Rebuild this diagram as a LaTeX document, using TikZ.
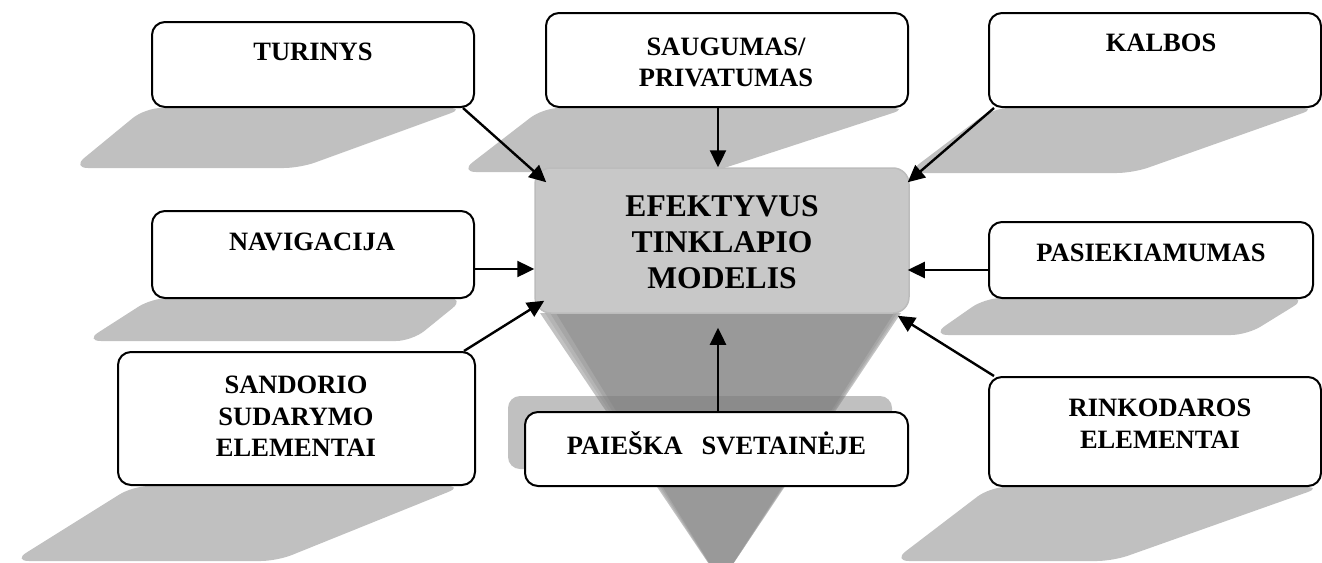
\documentclass[tikz,border=0pt]{standalone}
\usepackage{fontspec}
\setmainfont{Liberation Serif}
\usetikzlibrary{arrows.meta}
\definecolor{shadowgray}{HTML}{C0C0C0}
\definecolor{coregray}{HTML}{C8C8C8}
\definecolor{coreedge}{HTML}{BCBCBC}
\definecolor{funnelA}{HTML}{C2C2C2}
\definecolor{funnelB}{HTML}{B4B4B4}
\definecolor{funnelC}{HTML}{A6A6A6}
\definecolor{funnelD}{HTML}{999999}
\definecolor{backrect}{HTML}{7E7E7E}
\begin{document}
\begin{tikzpicture}[x=1pt,y=-1pt,
  box/.style={draw=black, line width=2pt, rounded corners=13pt, fill=white, inner sep=0pt},
  lbl/.style={font=\fontsize{26.5}{31.5}\selectfont\bfseries, align=center, inner sep=0pt},
  big/.style={font=\fontsize{31.6}{36}\selectfont\bfseries, align=center, inner sep=0pt},
  flat/.style={fill=shadowgray, rounded corners=16pt},
  arr/.style={-{Triangle[length=17pt,width=16pt]}, line width=2.4pt}]
\useasboundingbox (0,0) rectangle (1322,562);
\clip (0,0) rectangle (1322,562);

% slanted shadows under the boxes
\fill[flat] (145,108) -- (465,108) -- (300,168) -- (72,168) -- cycle;
\fill[flat] (543,108) -- (908,108) -- (712,172) -- (460,172) -- cycle;
\fill[flat] (993,108) -- (1317,108) -- (1133,173) -- (907,173) -- cycle;
\fill[flat] (152,298) -- (465,298) -- (412,341) -- (85,341) -- cycle;
\fill[flat] (985,298) -- (1307,298) -- (1247,335) -- (932,335) -- cycle;
\fill[flat] (133,486) -- (463,486) -- (277,561) -- (13,561) -- cycle;
\fill[flat] (990,487) -- (1322,487) -- (1113,561) -- (893,561) -- cycle;

% funnel under the central box, lighter towards its rims
\fill[funnelA] (540,313) -- (901,313) -- (721,582) -- cycle;
\fill[funnelB] (545,313) -- (899,313) -- (721,582) -- cycle;
\fill[funnelC] (550,313) -- (897,313) -- (721,582) -- cycle;
\fill[funnelD] (556,313) -- (894,313) -- (721,582) -- cycle;

% central box
\node[fill=coregray, draw=coreedge, line width=1.5pt, rounded corners=16pt,
      minimum width=374pt, minimum height=145pt, inner sep=0pt] (core) at (722,240.5) {};
\node[big] (core-t) at (722,242.5) {EFEKTYVUS\\TINKLAPIO\\MODELIS};

% translucent plate behind the search box
\fill[backrect, opacity=0.49, rounded corners=12pt] (508,396) rectangle (892,469);

% factor boxes
\node[box, minimum width=322pt, minimum height=85pt] (tur) at (313,64.5) {};
\node[box, minimum width=362pt, minimum height=94pt] (saug) at (727,60) {};
\node[box, minimum width=332pt, minimum height=94pt] (kal) at (1155,60) {};
\node[box, minimum width=322pt, minimum height=87pt] (nav) at (313,254.5) {};
\node[box, minimum width=324pt, minimum height=76pt] (pas) at (1151,260) {};
\node[box, minimum width=357pt, minimum height=133pt] (sand) at (296.5,418.5) {};
\node[box, minimum width=332pt, minimum height=109pt] (rink) at (1155,431.5) {};
\node[box, minimum width=383pt, minimum height=74pt] (paie) at (716.5,449) {};

% box labels
\node[lbl] (tur-t) at (313,52) {TURINYS};
\node[lbl] (saug-t) at (726,62.5) {SAUGUMAS/\\PRIVATUMAS};
\node[lbl] (kal-t) at (1161,43) {KALBOS};
\node[lbl] (nav-t) at (312,242) {NAVIGACIJA};
\node[lbl] (pas-t) at (1151,253) {PASIEKIAMUMAS};
\node[lbl] (sand-t) at (296,416.5) {SANDORIO\\SUDARYMO\\ELEMENTAI};
\node[lbl] (rink-t) at (1160,423.5) {RINKODAROS\\ELEMENTAI};
\node[lbl] (paie-t) at (716.5,443) {PAIEŠKA\hspace{19pt}SVETAINĖJE};

% connectors into the central box
\draw[arr] ([xshift=-12pt]tur.south east) -- ([xshift=12pt,yshift=-15pt]core.north west);
\draw[arr] ([xshift=-9pt]saug.south) -- ([xshift=-4pt]core.north);
\draw[arr] ([xshift=6pt]kal.south west) -- ([xshift=-2pt,yshift=-15pt]core.north east);
\draw[arr] ([yshift=-14.5pt]nav.east) -- ([yshift=-28.5pt]core.west);
\draw[arr] ([yshift=-10pt]pas.west) -- ([xshift=-2pt,yshift=-29.5pt]core.east);
\draw[arr] ([xshift=-12pt]sand.north east) -- ([xshift=10pt,yshift=13pt]core.south west);
\draw[arr] ([xshift=6pt]rink.north west) -- ([xshift=-12pt,yshift=-2pt]core.south east);
\draw[arr] ([xshift=1.5pt]paie.north) -- ([xshift=-4pt,yshift=-14pt]core.south);
\end{tikzpicture}
\end{document}
